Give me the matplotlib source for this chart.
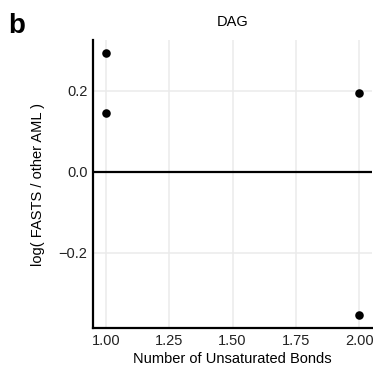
import matplotlib.pyplot as plt

plt.rcParams.update({'font.family': ['Liberation Sans', 'DejaVu Sans'], 'font.size': 10})

# data
unsat_bonds = [1, 1, 2, 2]
log_ratio = [0.292, 0.145, 0.194, -0.353]
x_ticks = [1.00, 1.25, 1.50, 1.75, 2.00]
y_ticks = [-0.2, 0.0, 0.2]

fig = plt.figure(figsize=(3.73, 3.79), dpi=100)
ax = fig.add_axes([93 / 373, 1 - 328 / 379, 279 / 373, 288 / 379])

ax.scatter(unsat_bonds, log_ratio, s=38, color='black', zorder=3, linewidths=0)
ax.axhline(0, color='black', lw=1.6, zorder=2)

ax.set_xlim(0.949, 2.051)
ax.set_ylim(-0.3855, 0.3245)
ax.set_xticks(x_ticks)
ax.set_xticklabels([f'{v:.2f}' for v in x_ticks])
ax.set_yticks(y_ticks)
ax.set_yticklabels(['\u22120.2', '0.0', '0.2'])

ax.grid(True, color='#ebebeb', lw=1.1)
ax.set_axisbelow(True)
for s in ['top', 'right']:
    ax.spines[s].set_visible(False)
for s in ['left', 'bottom']:
    ax.spines[s].set_linewidth(1.6)
    ax.spines[s].set_color('black')
ax.tick_params(length=0, pad=4, labelcolor='#222222', labelsize=10.5)

ax.set_title('DAG', fontsize=10.5, pad=10)
ax.set_xlabel('Number of Unsaturated Bonds', fontsize=10.5, labelpad=3)
ax.set_ylabel('log( FASTS / other AML )', fontsize=10.5, labelpad=10)

fig.text(8 / 373, 1 - 33 / 379, 'b', fontsize=20, fontweight='bold')

fig.savefig('out.png', dpi=100)
